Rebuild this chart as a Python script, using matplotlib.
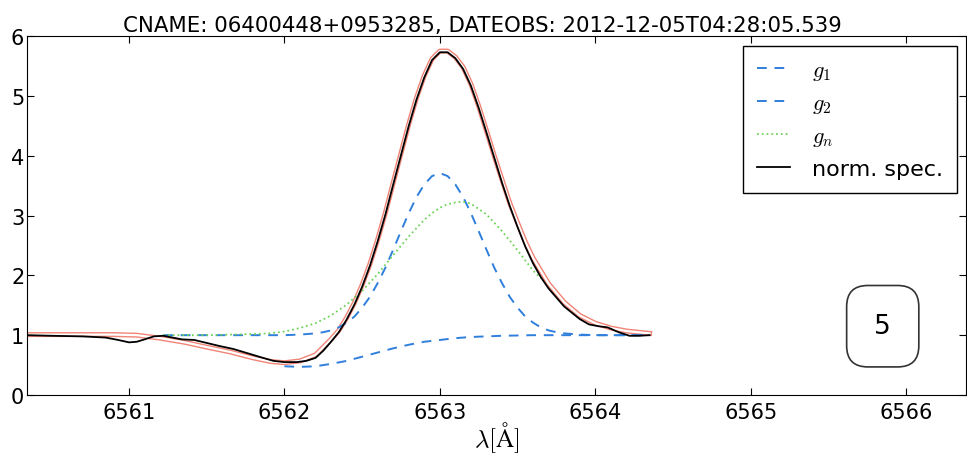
import matplotlib
matplotlib.use("Agg")
import matplotlib.pyplot as plt

# spectrum around H-alpha
spec_x = [6560.35, 6560.5, 6560.7, 6560.85, 6560.93, 6561.0, 6561.05, 6561.1, 6561.16,
          6561.22, 6561.28, 6561.34, 6561.42, 6561.5, 6561.58, 6561.67, 6561.76, 6561.85,
          6561.93, 6562.0, 6562.08, 6562.14, 6562.2, 6562.25, 6562.3, 6562.35, 6562.4,
          6562.45, 6562.5, 6562.55, 6562.6, 6562.65, 6562.7, 6562.75, 6562.8, 6562.85,
          6562.9, 6562.95, 6563.0, 6563.05, 6563.1, 6563.15, 6563.2, 6563.25,
          6563.3, 6563.35, 6563.4, 6563.45, 6563.5, 6563.55, 6563.6, 6563.65, 6563.7,
          6563.8, 6563.9, 6563.96, 6564.02, 6564.08, 6564.15, 6564.22, 6564.28, 6564.35]
spec_y = [1.00, 0.99, 0.98, 0.96, 0.92, 0.88, 0.89, 0.93, 0.98,
          0.99, 0.96, 0.93, 0.92, 0.87, 0.82, 0.77, 0.70, 0.63,
          0.57, 0.55, 0.55, 0.57, 0.62, 0.74, 0.89, 1.05, 1.26,
          1.51, 1.81, 2.16, 2.57, 3.02, 3.52, 4.01, 4.50, 4.94,
          5.31, 5.60, 5.73, 5.73, 5.63, 5.45, 5.17, 4.80,
          4.39, 3.97, 3.55, 3.16, 2.81, 2.48, 2.20, 1.97, 1.78,
          1.48, 1.27, 1.18, 1.15, 1.13, 1.05, 0.99, 0.99, 1.00]

fit_x = [6560.35, 6560.6, 6560.9, 6561.05, 6561.2, 6561.36, 6561.5, 6561.65, 6561.8,
         6561.91, 6562.0, 6562.1, 6562.2, 6562.25, 6562.3, 6562.35, 6562.4, 6562.45,
         6562.5, 6562.55, 6562.6, 6562.65, 6562.7, 6562.75, 6562.8, 6562.85, 6562.9,
         6562.95, 6563.0, 6563.05, 6563.1, 6563.15, 6563.2, 6563.25, 6563.3, 6563.35,
         6563.4, 6563.45, 6563.5, 6563.55, 6563.6, 6563.7, 6563.8, 6563.9, 6564.0,
         6564.1, 6564.2, 6564.35]
fit_y = [1.01, 1.01, 1.01, 1.0, 0.95, 0.88, 0.80, 0.72, 0.62,
         0.56, 0.54, 0.57, 0.67, 0.80, 0.93, 1.08, 1.29, 1.54,
         1.84, 2.19, 2.60, 3.05, 3.55, 4.04, 4.53, 4.97, 5.34,
         5.62, 5.75, 5.75, 5.65, 5.48, 5.20, 4.83, 4.42, 4.00,
         3.60, 3.21, 2.88, 2.56, 2.29, 1.86, 1.55, 1.33, 1.20,
         1.12, 1.07, 1.03]

g1_x = [6561.22, 6561.5, 6561.8, 6562.0, 6562.1, 6562.2, 6562.25, 6562.3, 6562.35, 6562.4,
        6562.45, 6562.5, 6562.55, 6562.6, 6562.65, 6562.7, 6562.75, 6562.8, 6562.85, 6562.9,
        6562.95, 6563.0, 6563.05, 6563.1, 6563.15, 6563.2, 6563.25, 6563.3, 6563.35, 6563.4,
        6563.45, 6563.5, 6563.55, 6563.6, 6563.65, 6563.7, 6563.75, 6563.8, 6563.9, 6564.0,
        6564.35]
g1_y = [1.0, 1.0, 1.0, 1.0, 1.01, 1.03, 1.05, 1.08, 1.13, 1.21,
        1.31, 1.46, 1.64, 1.87, 2.13, 2.43, 2.74, 3.04, 3.31, 3.52,
        3.66, 3.71, 3.66, 3.52, 3.31, 3.04, 2.74, 2.43, 2.13, 1.87,
        1.64, 1.46, 1.31, 1.21, 1.13, 1.08, 1.05, 1.03, 1.01, 1.0,
        1.0]

g2_x = [6562.0, 6562.1, 6562.2, 6562.3, 6562.4, 6562.5, 6562.6, 6562.7, 6562.8, 6562.9,
        6563.0, 6563.1, 6563.2, 6563.3, 6563.4, 6563.5, 6563.6, 6563.8, 6564.35]
g2_y = [0.48, 0.47, 0.48, 0.52, 0.57, 0.64, 0.71, 0.78, 0.84, 0.89,
        0.92, 0.95, 0.97, 0.98, 0.99, 0.995, 1.0, 1.0, 1.0]

gn_x = [6561.22, 6561.5, 6561.8, 6561.9, 6562.0, 6562.1, 6562.2, 6562.3, 6562.4, 6562.5,
        6562.6, 6562.7, 6562.8, 6562.9, 6562.95, 6563.0, 6563.05, 6563.1, 6563.15, 6563.2,
        6563.3, 6563.4, 6563.5, 6563.6, 6563.65]
gn_y = [1.0, 1.0, 1.02, 1.03, 1.06, 1.12, 1.20, 1.33, 1.51, 1.74,
        2.02, 2.34, 2.65, 2.93, 3.04, 3.13, 3.19, 3.22, 3.23, 3.20,
        3.02, 2.74, 2.42, 2.08, 1.95]

title = "CNAME: 06400448+0953285, DATEOBS: 2012-12-05T04:28:05.539"
box_label = "5"

plt.rcParams['mathtext.fontset'] = 'cm'
plt.rcParams['font.size'] = 15

fig = plt.figure(figsize=(9.67, 4.56), dpi=100)
ax = fig.add_axes([0.028, 0.1316, 0.971, 0.787])

blue = '#2f7fdc'
ax.plot(fit_x, fit_y, color='#ee6e5e', lw=3.6, alpha=0.85, zorder=2)
ax.plot(fit_x, fit_y, color='white', lw=1.6, zorder=2.1)
ax.plot(g1_x, g1_y, color=blue, ls='--', dashes=(5, 4), lw=1.4, label='$g_1$', zorder=3)
ax.plot(g2_x, g2_y, color=blue, ls='--', dashes=(5, 4), lw=1.4, label='$g_2$', zorder=3)
ax.plot(gn_x, gn_y, color='#6fd35a', ls=':', lw=1.3, label='$g_n$', zorder=3)
ax.plot(spec_x, spec_y, color='black', lw=1.3, label='norm. spec.', zorder=4)

ax.text(6565.85, 1.15, box_label, fontsize=19, ha='center', va='center',
        bbox=dict(boxstyle='round,pad=1.05,rounding_size=0.8', fc='white', ec='#333333', lw=1.2))

ax.set_xlim(6560.344, 6566.386)
ax.set_ylim(0, 6)
ax.set_xticks([6561, 6562, 6563, 6564, 6565, 6566])
ax.set_yticks([0, 1, 2, 3, 4, 5, 6])
ax.tick_params(direction='in', top=True, right=True, length=5, labelsize=15)
ax.tick_params(axis='y', pad=2)
ax.tick_params(axis='x', pad=5)
ax.set_xlabel(r'$\lambda[\mathrm{\AA}]$', fontsize=18, labelpad=-2)
ax.set_title(title, fontsize=15.3, pad=4, x=0.4846)

leg = ax.legend(loc='upper right', bbox_to_anchor=(0.9904, 0.9721), borderaxespad=0,
                fontsize=16, handlelength=1.5, handletextpad=1.0, labelspacing=0.5,
                borderpad=0.62, fancybox=False, framealpha=1)
leg.get_frame().set_edgecolor('black')

fig.savefig('out.png', dpi=100)
